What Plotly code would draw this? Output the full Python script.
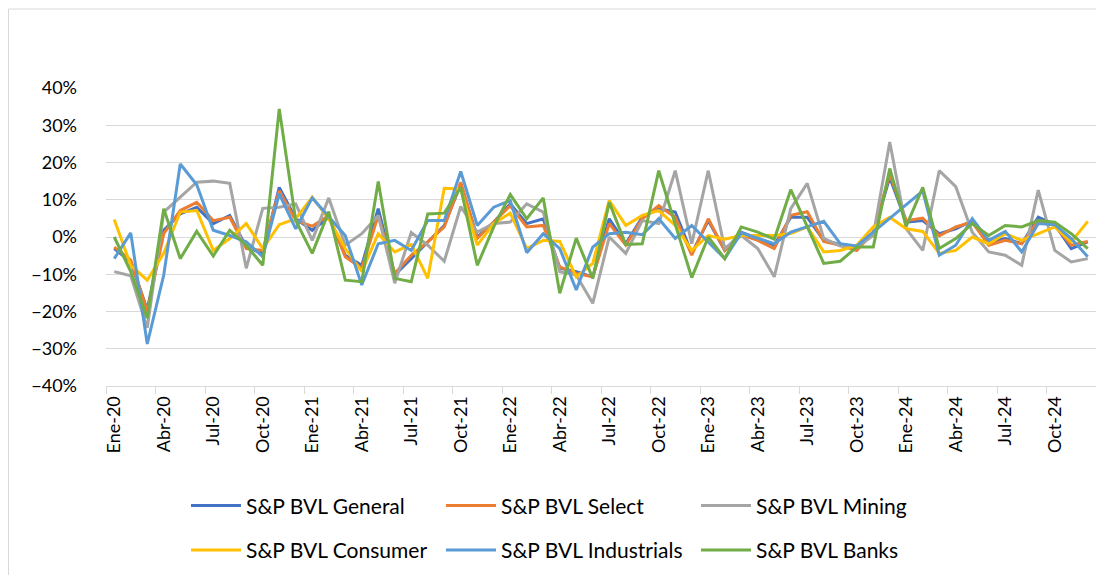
import plotly.graph_objects as go

months_es = ["Ene", "Feb", "Mar", "Abr", "May", "Jun", "Jul", "Ago", "Set", "Oct", "Nov", "Dic"]
years = ["20", "21", "22", "23", "24"]
categories = [f"{m}-{y}" for y in years for m in months_es]

general = [-3.1, -6.7, -19.5, 1.8, 6.2, 8.0, 3.6, 5.8, -2.7, -4.4,
           13.3, 4.9, 1.8, 5.3, -4.9, -7.6, 7.6, -10.2, -5.8, -1.3,
           3.1, 14.2, 0.0, 4.0, 8.9, 3.6, 4.9, -8.4, -9.3, -10.7,
           4.9, -1.8, 5.3, 7.6, 6.7, -4.4, 4.4, -3.6, 1.3, -0.4,
           -2.2, 5.3, 5.3, -0.9, -2.0, -3.1, 0.9, 16.0, 4.0, 4.4,
           0.9, 2.2, 4.4, -1.3, -0.4, -1.8, 5.3, 3.3, -3.1, -1.3]
select = [-2.7, -6.2, -20.0, 0.9, 7.1, 9.3, 4.4, 5.3, -3.1, -3.6,
          12.4, 4.4, 2.9, 5.8, -5.3, -8.4, 5.8, -9.8, -4.9, -1.3,
          2.7, 14.7, -0.4, 4.0, 8.4, 2.7, 3.1, -8.0, -9.8, -10.7,
          3.6, -2.2, 4.9, 8.4, 5.3, -4.9, 4.9, -3.6, 0.6, -0.9,
          -3.1, 5.8, 6.8, -1.2, -2.2, -3.6, 1.3, 16.9, 4.4, 5.1,
          0.3, 2.7, 4.0, -2.2, -0.9, -1.8, 4.4, 3.1, -2.2, -1.2]
mining = [-9.3, -10.4, -24.4, 6.7, 10.7, 14.7, 15.0, 14.4, -8.4, 7.7,
          8.0, 8.9, -0.9, 10.5, -2.2, 0.9, 5.8, -12.4, 1.2, -2.2,
          -6.5, 8.2, 1.3, 3.6, 4.0, 8.9, 6.7, -9.3, -10.2, -17.8,
          0.0, -4.4, 4.4, 3.6, 17.8, -1.8, 17.8, -3.1, 0.4, -3.1,
          -10.7, 7.6, 14.4, -0.4, -2.4, -2.7, 0.4, 25.5, 2.2, -3.6,
          17.8, 13.5, 1.3, -4.0, -4.9, -7.6, 12.6, -3.6, -6.7, -5.8]
consumer = [4.7, -7.6, -11.6, -4.4, 6.7, 7.1, -3.6, -0.4, 3.6, -3.1,
            3.3, 4.9, 10.7, 4.9, -3.1, -9.3, 0.9, -4.0, -2.0, -11.1,
            13.1, 12.9, -2.2, 3.6, 6.4, -3.1, -0.9, -1.2, -10.7, -7.1,
            9.8, 3.1, 5.8, 7.1, 3.1, -3.6, 0.4, -0.6, 0.4, 0.4,
            0.4, 0.9, 2.7, -4.0, -3.6, -2.2, 2.7, 5.3, 2.2, 1.5,
            -4.4, -3.6, 0.0, -1.8, 0.9, -0.9, 0.9, 2.7, -1.3, 4.2]
industrials = [-5.8, 1.1, -28.7, -10.2, 19.6, 14.0, 1.8, 0.4, -1.3, -5.3,
               11.6, 2.2, 10.5, 5.3, 0.4, -12.9, -1.8, -0.9, -3.6, 4.4,
               4.4, 17.6, 3.1, 8.0, 9.8, -4.2, 0.9, -3.1, -14.2, -2.7,
               0.9, 1.3, 0.6, 4.9, -0.4, 3.1, -1.3, -5.8, 1.1, -0.4,
               -1.8, 1.3, 2.7, 4.2, -1.8, -2.4, 1.3, 5.0, 8.7, 12.4,
               -4.9, -2.2, 4.9, -0.9, 1.5, -4.0, 3.6, 3.3, -0.4, -5.3]
banks = [0.0, -9.3, -21.8, 7.6, -5.8, 1.5, -5.1, 1.8, -2.2, -7.6,
         34.4, 4.4, -4.4, 6.8, -11.6, -12.0, 14.9, -11.1, -12.0, 6.2,
         6.4, 13.3, -7.6, 2.7, 11.4, 4.9, 10.5, -15.1, -0.3, -11.1,
         9.3, -2.0, -1.8, 17.8, 3.4, -10.9, 0.0, -5.8, 2.7, 1.3,
         -0.6, 12.7, 2.8, -7.1, -6.5, -2.7, -2.7, 18.4, 2.9, 13.3,
         -3.1, -0.4, 3.6, 0.4, 3.1, 2.7, 4.4, 4.0, 0.9, -3.1]

series = [
    ("S&P BVL General", general, "#4472C4", "legend"),
    ("S&P BVL Select", select, "#ED7D31", "legend"),
    ("S&P BVL Mining", mining, "#A5A5A5", "legend"),
    ("S&P BVL Consumer", consumer, "#FFC000", "legend2"),
    ("S&P BVL Industrials", industrials, "#5B9BD5", "legend2"),
    ("S&P BVL Banks", banks, "#70AD47", "legend2"),
]

x = list(range(len(categories)))
fig = go.Figure()
for name, vals, color, leg in series:
    fig.add_trace(go.Scatter(
        x=x, y=[v / 100 for v in vals], name=name, mode="lines",
        line=dict(color=color, width=3), legend=leg,
        text=categories, hovertemplate="%{text}: %{y:.1%}<extra>" + name + "</extra>",
    ))

FONT = "Lato, 'Noto Sans', sans-serif"
tick_idx = list(range(0, len(categories), 3))
leg_common = dict(orientation="h", x=0.0808, xanchor="left", yanchor="top",
                  entrywidth=190, entrywidthmode="pixels", itemwidth=50,
                  font=dict(size=21), bgcolor="rgba(0,0,0,0)")
fig.update_layout(
    width=1104, height=575,
    margin=dict(l=98, r=16, t=80, b=195),
    paper_bgcolor="white", plot_bgcolor="white",
    font=dict(family=FONT, size=18, color="#000000"),
    showlegend=True,
    legend=dict(y=-0.333, **leg_common),
    legend2=dict(y=-0.483, **leg_common),
    xaxis=dict(
        range=[-0.5, len(categories) - 0.5],
        tickmode="array", tickvals=tick_idx, ticktext=[categories[i] for i in tick_idx],
        tickangle=-90, ticks="", showgrid=False, zeroline=False,
        showline=True, linecolor="#D9D9D9", linewidth=1,
        ticklabelstandoff=2,
        minor=dict(tickmode="array", tickvals=[i - 0.5 for i in range(0, len(categories) + 1, 3)],
                   ticks="outside", ticklen=7, tickcolor="#D9D9D9", tickwidth=1, showgrid=False),
        tickfont=dict(size=18),
    ),
    yaxis=dict(
        range=[-0.4, 0.4], dtick=0.1, tick0=0, tickformat=".0%",
        showgrid=True, gridcolor="#D9D9D9", gridwidth=1,
        zeroline=False, showline=False, ticks="",
        ticklabelstandoff=28, tickfont=dict(size=18),
    ),
    shapes=[dict(type="rect", xref="paper", yref="paper",
                 x0=(0.5 - 98) / 990, x1=(1103.5 - 98) / 990,
                 y0=(380 - 574.5) / 300, y1=(380 - 0.5) / 300,
                 line=dict(color="#D9D9D9", width=1), layer="below")],
)

fig.write_html("out.html")
